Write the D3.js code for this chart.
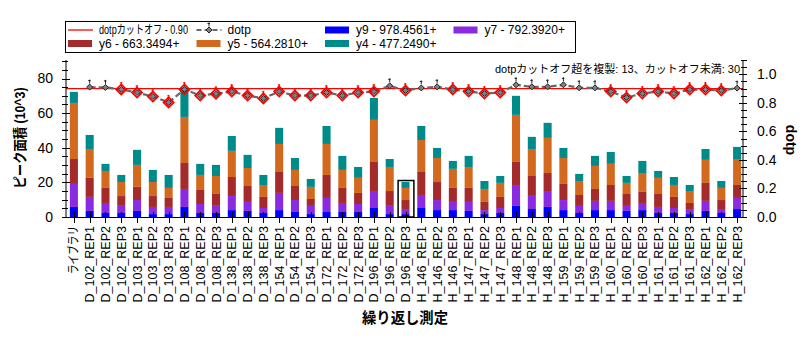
<!DOCTYPE html>
<html>
<head>
<meta charset="utf-8">
<script src="https://cdn.jsdelivr.net/npm/d3@7"></script>
<style>
  body { margin: 0; background: #fff; }
  text { font-family: "Liberation Sans", "Noto Sans CJK JP", sans-serif; }
</style>
</head>
<body>
<svg id="chart" width="812" height="339"></svg>
<script>
const categories = ["ライブラリ",
  "D_102_REP1", "D_102_REP2", "D_102_REP3", "D_103_REP1", "D_103_REP2", "D_103_REP3",
  "D_108_REP1", "D_108_REP2", "D_108_REP3", "D_138_REP1", "D_138_REP2", "D_138_REP3",
  "D_154_REP1", "D_154_REP2", "D_154_REP3", "D_172_REP1", "D_172_REP2", "D_172_REP3",
  "D_196_REP1", "D_196_REP2", "D_196_REP3", "H_146_REP1", "H_146_REP2", "H_146_REP3",
  "H_147_REP1", "H_147_REP2", "H_147_REP3", "H_148_REP1", "H_148_REP2", "H_148_REP3",
  "H_159_REP1", "H_159_REP2", "H_159_REP3", "H_160_REP1", "H_160_REP2", "H_160_REP3",
  "H_161_REP1", "H_161_REP2", "H_161_REP3", "H_162_REP1", "H_162_REP2", "H_162_REP3"];

// peak areas (10^3) per transition
const y9 = [5.8, 3.5, 2.3, 2.3, 3.5, 1.7, 1.7, 5.8, 2.3, 2.3, 4.0, 3.5, 2.3, 4.0, 2.9, 1.7, 2.9, 2.9, 2.9, 5.2, 1.7, 1.7,
  5.2, 4.0, 4.0, 3.5, 1.7, 2.3, 6.4, 4.6, 5.8, 4.0, 2.3, 4.0, 4.0, 3.5, 4.0, 2.3, 2.3, 1.7, 3.5, 2.3, 4.6];
const y7 = [13.3, 8.1, 5.8, 4.6, 6.3, 4.1, 4.1, 10.4, 5.2, 4.6, 8.1, 5.2, 2.9, 9.9, 6.9, 4.7, 8.1, 5.2, 4.6, 9.8, 5.2, 2.9,
  7.5, 5.8, 4.7, 5.2, 2.3, 2.9, 12.1, 8.1, 8.7, 5.8, 4.1, 5.3, 5.3, 2.9, 4.1, 3.5, 2.9, 2.9, 5.8, 2.3, 6.4];
const y6 = [14.4, 11.0, 8.7, 5.2, 7.6, 6.3, 5.2, 15.0, 8.1, 6.4, 11.0, 9.2, 6.4, 12.1, 8.1, 4.0, 13.3, 8.7, 6.4, 16.8, 8.1, 5.2,
  13.3, 10.4, 8.1, 8.1, 4.7, 6.4, 13.3, 11.0, 10.9, 9.3, 6.3, 6.9, 9.2, 6.9, 6.4, 7.5, 6.4, 3.5, 10.4, 5.2, 7.5];
const y5 = [32.4, 16.7, 9.8, 8.1, 12.7, 8.1, 5.8, 26.6, 8.7, 10.4, 15.1, 10.4, 6.9, 16.2, 9.3, 7.0, 17.9, 10.4, 8.7, 24.3, 13.9, 7.0,
  18.5, 13.9, 11.0, 12.1, 7.5, 8.1, 27.2, 15.6, 20.3, 15.0, 8.1, 13.3, 12.2, 6.4, 10.9, 9.3, 6.9, 6.9, 13.3, 7.0, 15.0];
const y4 = [6.4, 8.1, 4.1, 4.1, 8.7, 7.0, 7.5, 16.7, 6.4, 6.4, 8.6, 7.6, 5.8, 9.3, 6.9, 4.6, 10.4, 8.1, 6.3, 12.7, 4.6, 3.4,
  8.1, 5.8, 4.6, 6.4, 4.6, 4.0, 11.0, 7.0, 8.7, 5.8, 4.1, 5.8, 6.9, 4.0, 7.0, 4.0, 4.6, 3.5, 6.3, 4.0, 7.0];

// dot product per replicate (library has none)
const dotp = [null, 0.910, 0.908, 0.894, 0.872, 0.844, 0.803, 0.894, 0.851, 0.864, 0.879, 0.851, 0.831,
  0.879, 0.851, 0.851, 0.872, 0.851, 0.872, 0.879, 0.919, 0.886, 0.904, 0.912, 0.893, 0.879, 0.865, 0.872,
  0.926, 0.912, 0.912, 0.926, 0.905, 0.905, 0.879, 0.837, 0.865, 0.879, 0.865, 0.893, 0.893, 0.886, 0.903];
const dotpCutoff = 0.90;
const selectedReplicate = "D_196_REP3";

const seriesNames = ["y9", "y7", "y6", "y5", "y4"];
const seriesLabels = ["y9 - 978.4561+", "y7 - 792.3920+", "y6 - 663.3494+", "y5 - 564.2810+", "y4 - 477.2490+"];
const seriesColors = ["#0000ff", "#8a2be2", "#a52a2a", "#d2691e", "#008b8b"];
const leftTicks = [0, 20, 40, 60, 80];
const rightTicks = [0, 0.2, 0.4, 0.6, 0.8, 1.0];

const rows = categories.map((c, i) => ({ name: c, y9: y9[i], y7: y7[i], y6: y6[i], y5: y5[i], y4: y4[i], dotp: dotp[i] }));

const svg = d3.select("#chart");
const plotLeft = 66, plotRight = 743, plotTop = 60, plotBottom = 217;

const x = d3.scaleBand().domain(categories).range([plotLeft, 745]).paddingInner(0.49).paddingOuter(0.245);
const y = d3.scaleLinear().domain([0, 90.7]).range([plotBottom, plotTop]);
const y2 = d3.scaleLinear().domain([0, 1.1]).range([plotBottom, plotTop]);
const cx = d => x(d) + x.bandwidth() / 2;

const color = d3.scaleOrdinal().domain(seriesNames).range(seriesColors);
const stacked = d3.stack().keys(seriesNames)(rows);

// stacked bars
svg.append("g").selectAll("g")
  .data(stacked)
  .join("g")
  .attr("fill", d => color(d.key))
  .selectAll("rect")
  .data(d => d)
  .join("rect")
  .attr("x", d => x(d.data.name))
  .attr("width", x.bandwidth())
  .attr("y", d => y(d[1]))
  .attr("height", d => y(d[0]) - y(d[1]));

// box round the selected replicate
const selRow = stacked[stacked.length - 1].find(d => d.data.name === selectedReplicate);
svg.append("rect")
  .attr("x", cx(selectedReplicate) - x.step() / 2 + 0.5)
  .attr("width", x.step())
  .attr("y", y(selRow[1]) - 1.5)
  .attr("height", plotBottom - y(selRow[1]) + 1.5)
  .attr("fill", "none")
  .attr("stroke", "#000")
  .attr("stroke-width", 1.5);

// cutoff line
svg.append("line")
  .attr("x1", plotLeft).attr("x2", plotRight)
  .attr("y1", y2(dotpCutoff)).attr("y2", y2(dotpCutoff))
  .attr("stroke", "red").attr("stroke-width", 1.3);

// dotp line
const dotpRows = rows.filter(d => d.dotp != null);
svg.append("path")
  .datum(dotpRows)
  .attr("fill", "none")
  .attr("stroke", "#696969")
  .attr("stroke-width", 2.2)
  .attr("stroke-dasharray", "6,3")
  .attr("d", d3.line().x(d => cx(d.name)).y(d => y2(d.dotp)));

function marker(g, px, py, low) {
  if (low) {
    g.append("path")
      .attr("d", `M${px},${py - 5}L${px + 5},${py}L${px},${py + 5}L${px - 5},${py}Z`)
      .attr("fill", "none").attr("stroke", "red").attr("stroke-width", 1.8);
  }
  g.append("path")
    .attr("d", `M${px},${py - 3}L${px + 3},${py}L${px},${py + 3}L${px - 3},${py}Z`)
    .attr("fill", "#808080").attr("stroke", "#222").attr("stroke-width", 1);
  g.append("path")
    .attr("d", `M${px},${py - 3.5}V${py - 7.5}M${px - 1.5},${py - 6.5}H${px + 1}`)
    .attr("stroke", low ? "red" : "#222").attr("stroke-width", 1).attr("fill", "none");
}

const markers = svg.append("g");
dotpRows.forEach(d => marker(markers, cx(d.name), y2(d.dotp), d.dotp < dotpCutoff));

// axes
const axes = svg.append("g").attr("stroke", "#000").attr("stroke-width", 1);
axes.append("line").attr("x1", plotLeft).attr("x2", plotLeft).attr("y1", plotTop).attr("y2", plotBottom);
axes.append("line").attr("x1", plotRight).attr("x2", plotRight).attr("y1", plotTop).attr("y2", plotBottom);
axes.append("line").attr("x1", plotLeft).attr("x2", plotRight).attr("y1", plotBottom + 0.5).attr("y2", plotBottom + 0.5);

// left ticks: major every 20, minor every 5
d3.range(0, 91, 5).forEach(v => {
  const major = v % 20 === 0;
  axes.append("line")
    .attr("x1", plotLeft - 4).attr("x2", plotLeft + (major ? 4 : 2))
    .attr("y1", Math.round(y(v)) + 0.5).attr("y2", Math.round(y(v)) + 0.5);
});
// right ticks: major every 0.2, minor every 0.05
d3.range(0, 23).forEach(k => {
  const v = k * 0.05;
  const major = k % 4 === 0;
  axes.append("line")
    .attr("x1", plotRight - (major ? 4 : 2)).attr("x2", plotRight + 4)
    .attr("y1", Math.round(y2(v)) + 0.5).attr("y2", Math.round(y2(v)) + 0.5);
});
// category ticks
categories.forEach(c => {
  axes.append("line")
    .attr("x1", Math.round(cx(c)) + 0.5).attr("x2", Math.round(cx(c)) + 0.5)
    .attr("y1", plotBottom - 5).attr("y2", plotBottom + 6);
});

svg.append("g").selectAll("text")
  .data(leftTicks)
  .join("text")
  .attr("x", 53).attr("y", d => y(d))
  .attr("dy", "0.35em")
  .attr("text-anchor", "end")
  .attr("font-size", 14)
  .text(d => d);

svg.append("g").selectAll("text")
  .data(rightTicks)
  .join("text")
  .attr("x", 757).attr("y", d => y2(d))
  .attr("dy", "0.35em")
  .attr("font-size", 14)
  .text(d => d.toFixed(1));

// Japanese glyphs in the CJK font are wider, so those labels get a fixed length
const xLabels = svg.append("g").selectAll("text")
  .data(categories)
  .join("text")
  .attr("transform", d => `translate(${cx(d)},226) rotate(-90)`)
  .attr("dy", "0.36em")
  .attr("text-anchor", "end")
  .attr("font-size", 12.5)
  .text(d => d);
xLabels.filter(d => /[^\x00-\x7f]/.test(d))
  .attr("textLength", 48).attr("lengthAdjust", "spacingAndGlyphs");

// axis titles
svg.append("text")
  .attr("transform", "translate(20,138) rotate(-90)")
  .attr("text-anchor", "middle").attr("dy", "0.35em")
  .attr("font-size", 14).attr("font-weight", "bold")
  .attr("textLength", 101).attr("lengthAdjust", "spacingAndGlyphs")
  .text("ピーク面積 (10^3)");

svg.append("text")
  .attr("transform", "translate(791,140) rotate(90)")
  .attr("text-anchor", "middle").attr("dy", "0.35em")
  .attr("font-size", 14).attr("font-weight", "bold")
  .text("dotp");

svg.append("text")
  .attr("x", 405).attr("y", 318).attr("dy", "0.35em")
  .attr("text-anchor", "middle")
  .attr("font-size", 15).attr("font-weight", "bold")
  .attr("textLength", 86).attr("lengthAdjust", "spacingAndGlyphs")
  .text("繰り返し測定");

const above = dotp.filter(d => d != null && d >= dotpCutoff).length + 1;
const below = dotp.filter(d => d != null && d < dotpCutoff).length;
svg.append("text")
  .attr("x", 740).attr("y", 72.5)
  .attr("text-anchor", "end")
  .attr("font-size", 11)
  .text(`dotpカットオフ超を複製: ${above}、カットオフ未満: ${below}`);

// legend
const legend = svg.append("g");
legend.append("rect")
  .attr("x", 65.5).attr("y", 21.5).attr("width", 510).attr("height", 31)
  .attr("fill", "#fff").attr("stroke", "#000");

const legendItems = [
  { kind: "cutoff", label: `dotpカットオフ - ${dotpCutoff.toFixed(2)}`, len: 89 },
  { kind: "dotp", label: "dotp" },
  { kind: "bar", key: "y9" },
  { kind: "bar", key: "y7" },
  { kind: "bar", key: "y6" },
  { kind: "bar", key: "y5" },
  { kind: "bar", key: "y4" }
];
legendItems.forEach((item, i) => {
  const lx = 68 + (i % 4) * 128.5;
  const ly = i < 4 ? 30 : 43.5;
  const g = legend.append("g");
  if (item.kind === "cutoff") {
    g.append("line").attr("x1", lx).attr("x2", lx + 25).attr("y1", ly).attr("y2", ly)
      .attr("stroke", "red").attr("stroke-width", 1.3);
  } else if (item.kind === "dotp") {
    g.append("line").attr("x1", lx).attr("x2", lx + 25).attr("y1", ly).attr("y2", ly)
      .attr("stroke", "#696969").attr("stroke-width", 2.2).attr("stroke-dasharray", "5,3");
    marker(g, lx + 12.5, ly, false);
  } else {
    g.append("rect").attr("x", lx).attr("y", ly - 3.5).attr("width", 24).attr("height", 7)
      .attr("fill", color(item.key));
  }
  const t = g.append("text")
    .attr("x", lx + 31).attr("y", ly).attr("dy", "0.36em")
    .attr("font-size", 12)
    .text(item.label || seriesLabels[seriesNames.indexOf(item.key)]);
  if (item.len) t.attr("textLength", item.len).attr("lengthAdjust", "spacingAndGlyphs");
});
</script>
</body>
</html>
